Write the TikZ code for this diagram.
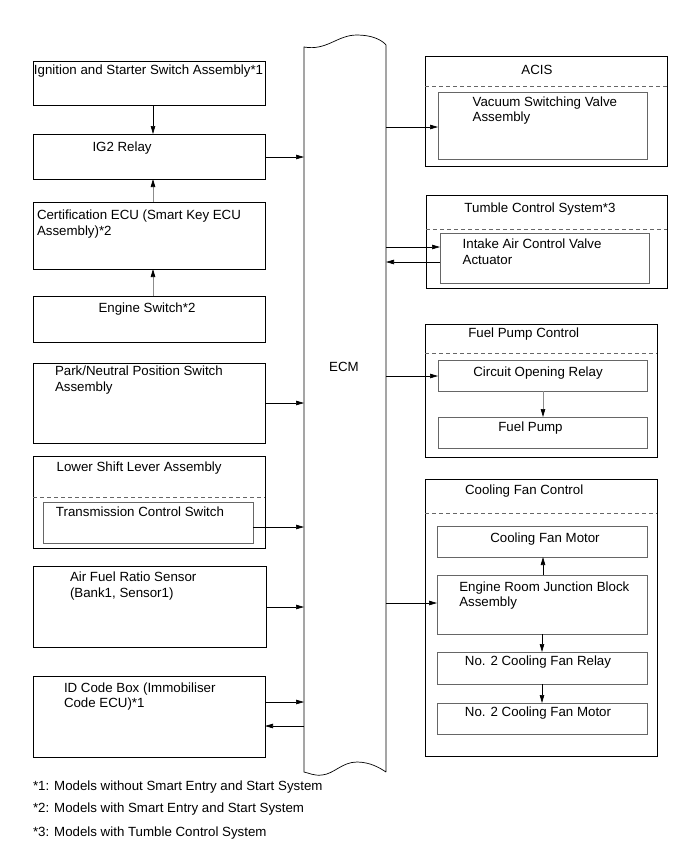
\documentclass[tikz,border=0pt]{standalone}
\usepackage{fontspec}
\setmainfont{Liberation Sans}
\usetikzlibrary{fit,arrows.meta}
\begin{document}
\begin{tikzpicture}[x=1pt,y=-1pt,
  box/.style={draw=black, line width=0.7pt, inner sep=0pt, outer sep=0pt},
  inbox/.style={draw=black!60, line width=0.7pt, inner sep=0pt, outer sep=0pt},
  dsh/.style={draw=black!60, line width=0.7pt, dash pattern=on 4pt off 3pt},
  txt/.style={inner sep=0pt, outer sep=0pt, font=\fontsize{13.3}{15.5}\selectfont, align=left, anchor=north west},
  ctxt/.style={txt, anchor=north, align=center},
  arr/.style={-{Triangle[length=8pt,width=4.5pt]}, line width=0.7pt, draw=black},
  garr/.style={-{Triangle[length=8pt,width=4.5pt,black]}, line width=0.7pt, draw=black!45}]
\useasboundingbox[fill=white] (0,0) rectangle (691,855);

% ---------- left column ----------
\node[box, fit={(33,61) (265,105)}] (ign) {};
\node[txt] (ignt) at (34,65) {Ignition and Starter Switch Assembly*1};
\node[box, fit={(33,134) (265,179)}] (ig2) {};
\node[txt] (ig2t) at (92.5,141.7) {IG2 Relay};
\node[box, fit={(33,202) (265,269)}] (cert) {};
\node[txt] (certt) at (37,210) {Certification ECU (Smart Key ECU\\Assembly)*2};
\node[box, fit={(33,296) (265,342)}] (eng) {};
\node[ctxt] (engt) at (147,303.3) {Engine Switch*2};
\node[box, fit={(33,363) (265,443)}] (park) {};
\node[txt] (parkt) at (55,366) {Park/Neutral Position Switch\\Assembly};
\node[box, fit={(33,456) (265,548)}] (lower) {};
\node[txt] (lowert) at (56.7,461.7) {Lower Shift Lever Assembly};
\draw[dsh] (lower.west |- 0,497) coordinate (lowerdl) -- (lower.east |- 0,497) coordinate (lowerdr);
\node[inbox, fit={(43,502) (253,543)}] (trans) {};
\node[txt] (transt) at (56,506.7) {Transmission Control Switch};
\node[box, fit={(33,566) (266,647)}] (afr) {};
\node[txt] (afrt) at (70,572) {Air Fuel Ratio Sensor\\(Bank1, Sensor1)};
\node[box, fit={(33,676) (265,757)}] (id) {};
\node[txt] (idt) at (64,682.7) {ID Code Box (Immobiliser\\Code ECU)*1};

% ---------- ECM ----------
\node[inner sep=0pt, outer sep=0pt, fit={(304,47) (386,772)}] (ecm) {};
\draw[line width=0.7pt] (386,772) -- (386,45)
  .. controls (382,40) and (372,35) .. (357,35)
  .. controls (337,35) and (327,51) .. (304,47)
  -- (304,772)
  .. controls (309,773) and (314,776) .. (322,775)
  .. controls (334,774) and (342,762) .. (357,762)
  .. controls (370,762) and (380,768) .. (386,772);
\node[ctxt] (ecmt) at (344,362) {ECM};

% ---------- right column ----------
\node[box, fit={(425,56) (667,166)}] (acis) {};
\node[ctxt] (acist) at (537,65) {ACIS};
\draw[dsh] (acis.west |- 0,86) coordinate (acisdl) -- (acis.east |- 0,86) coordinate (acisdr);
\node[inbox, fit={(438,92) (647,159)}] (vac) {};
\node[txt] (vact) at (472.7,96.7) {Vacuum Switching Valve\\Assembly};

\node[box, fit={(426,195) (667,288)}] (tum) {};
\node[ctxt] (tumt) at (540,202.7) {Tumble Control System*3};
\draw[dsh] (tum.west |- 0,229) coordinate (tumdl) -- (tum.east |- 0,229) coordinate (tumdr);
\node[inbox, fit={(440,233) (649,283)}] (iac) {};
\node[txt] (iact) at (462.7,239.3) {Intake Air Control Valve\\Actuator};

\node[box, fit={(425,324) (657,457)}] (fpc) {};
\node[txt] (fpct) at (468.3,328.3) {Fuel Pump Control};
\draw[dsh] (fpc.west |- 0,353) coordinate (fpcdl) -- (fpc.east |- 0,353) coordinate (fpcdr);
\node[inbox, fit={(438,360) (647,391)}] (cor) {};
\node[ctxt] (cort) at (538,366.7) {Circuit Opening Relay};
\node[inbox, fit={(438,417) (647,448)}] (fp) {};
\node[ctxt] (fpt) at (530.5,421.7) {Fuel Pump};

\node[box, fit={(425,479) (657,756)}] (cfc) {};
\node[txt] (cfct) at (465,485) {Cooling Fan Control};
\draw[dsh] (cfc.west |- 0,513) coordinate (cfcdl) -- (cfc.east |- 0,513) coordinate (cfcdr);
\node[inbox, fit={(437,526) (647,557)}] (cfm) {};
\node[ctxt] (cfmt) at (545,532.7) {Cooling Fan Motor};
\node[inbox, fit={(437,575) (647,634)}] (jb) {};
\node[txt] (jbt) at (459.3,581.7) {Engine Room Junction Block\\Assembly};
\node[inbox, fit={(437,652) (647,684)}] (rly) {};
\node[ctxt] (rlyt) at (538,656) {No. 2 Cooling Fan Relay};
\node[inbox, fit={(437,703) (647,734)}] (m2) {};
\node[ctxt] (m2t) at (538,707.3) {No. 2 Cooling Fan Motor};

% ---------- footnotes ----------
\node[txt] (f1) at (33,780.7) {*1: Models without Smart Entry and Start System};
\node[txt] (f2) at (33,802.7) {*2: Models with Smart Entry and Start System};
\node[txt] (f3) at (33,826.7) {*3: Models with Tumble Control System};

% ---------- connectors ----------
\draw[arr] (ign.south -| 153,0) -- (ig2.north -| 153,0);
\draw[garr] (cert.north -| 153,0) -- (ig2.south -| 153,0);
\draw[garr] (eng.north -| 153,0) -- (cert.south -| 153,0);

\draw[arr] (ig2.east |- 0,157) -- (ecm.west |- 0,157);
\draw[arr] (park.east |- 0,403) -- (ecm.west |- 0,403);
\draw[arr] (trans.east |- 0,527) -- (ecm.west |- 0,527);
\draw[arr] (afr.east |- 0,607) -- (ecm.west |- 0,607);
\draw[arr] (id.east |- 0,702) -- (ecm.west |- 0,702);
\draw[arr] (ecm.west |- 0,726) -- (id.east |- 0,726);

\draw[arr] (ecm.east |- 0,127) -- (vac.west |- 0,127);
\draw[arr] (ecm.east |- 0,247) -- (iac.west |- 0,247);
\draw[arr] (iac.west |- 0,262) -- (ecm.east |- 0,262);
\draw[arr] (ecm.east |- 0,376) -- (cor.west |- 0,376);
\draw[garr] (cor.south -| 543,0) -- (fp.north -| 543,0);
\draw[arr] (ecm.east |- 0,603) -- (jb.west |- 0,603);
\draw[arr] (jb.north -| 543,0) -- (cfm.south -| 543,0);
\draw[arr] (jb.south -| 542,0) -- (rly.north -| 542,0);
\draw[arr] (rly.south -| 542,0) -- (m2.north -| 542,0);
\end{tikzpicture}
\end{document}
